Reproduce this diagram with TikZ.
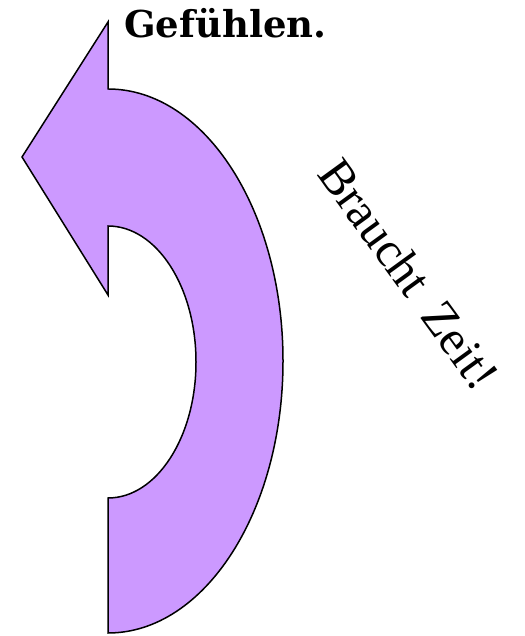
\documentclass[tikz,border=0pt]{standalone}
\usepackage{fontspec}
\setmainfont{DejaVu Serif}
\newfontfamily\timesfont{Liberation Serif}
\usepackage{tikz}
\usetikzlibrary{positioning}
\definecolor{arrowfill}{RGB}{204,153,255}

\begin{document}
\begin{tikzpicture}[x=1pt, y=1pt,
    turn/.style={fill=arrowfill, draw=black, line width=1.5pt, line join=miter},
    big/.style={inner sep=0pt}]
    \useasboundingbox (0,0) rectangle (524,636);
    % --- Curved arrow (turning back, pointing left) ---
    \draw[turn] (108,614) -- (22,479) -- (108,341) -- (108,410)
      arc[start angle=90, end angle=-90, x radius=88pt, y radius=136pt]
      -- (108,3)
      arc[start angle=-90, end angle=90, x radius=175pt, y radius=272pt]
      -- cycle;
    % --- Texts ---
    \node[big, anchor=base west, font=\bfseries\fontsize{37}{40}\selectfont] (gefuehl) at (124,598) {Gefühlen.};
    \node[big, rotate=-54, font=\timesfont\fontsize{49}{54}\selectfont] (zeit) at (409,362) {Braucht\hspace{8pt} Zeit!};
\end{tikzpicture}
\end{document}
